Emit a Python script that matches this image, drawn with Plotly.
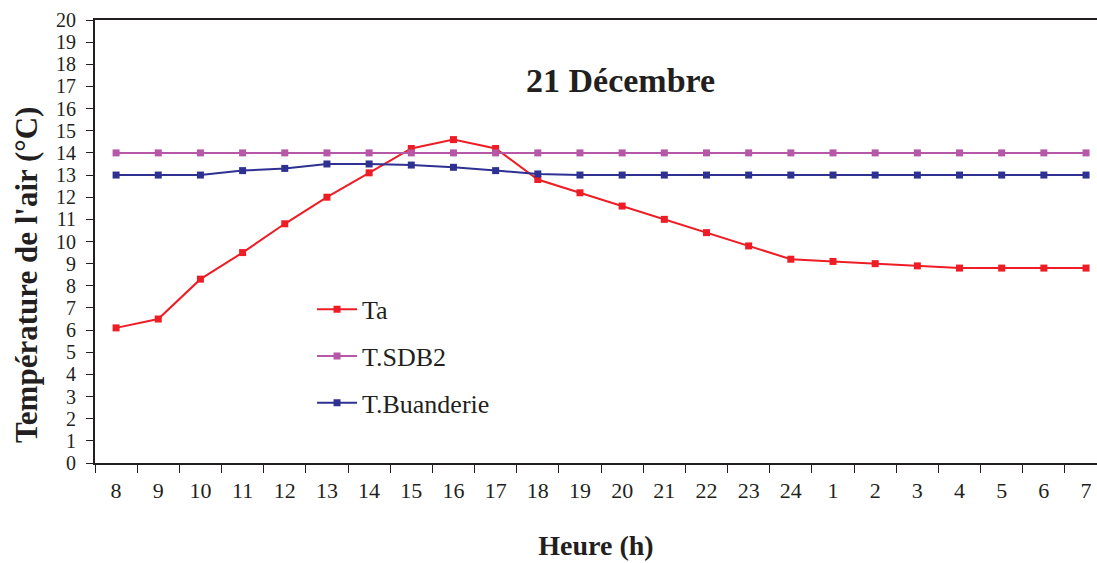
import plotly.graph_objects as go

hours = ["8", "9", "10", "11", "12", "13", "14", "15", "16", "17", "18", "19", "20",
         "21", "22", "23", "24", "1", "2", "3", "4", "5", "6", "7"]
ta = [6.1, 6.5, 8.3, 9.5, 10.8, 12.0, 13.1, 14.2, 14.6, 14.2, 12.8, 12.2, 11.6,
      11.0, 10.4, 9.8, 9.2, 9.1, 9.0, 8.9, 8.8, 8.8, 8.8, 8.8]
t_sdb2 = [14.0] * 24
t_buanderie = [13.0, 13.0, 13.0, 13.2, 13.3, 13.5, 13.5, 13.45, 13.35, 13.2, 13.05, 13.0,
               13.0, 13.0, 13.0, 13.0, 13.0, 13.0, 13.0, 13.0, 13.0, 13.0, 13.0, 13.0]
y_ticks = list(range(0, 21))

FONT = "Liberation Serif"
INK = "#231F20"

series = [
    ("Ta", ta, "#EE1C25"),
    ("T.SDB2", t_sdb2, "#B657A7"),
    ("T.Buanderie", t_buanderie, "#2E3192"),
]

fig = go.Figure()
for i, (name, vals, col) in enumerate(series):
    fig.add_trace(go.Scatter(
        x=hours, y=vals, name=name, mode="lines+markers",
        line=dict(color=col, width=2),
        marker=dict(symbol="square", size=7, color=col),
        legendgroup=f"g{i}",
    ))

fig.update_layout(
    width=1097, height=563,
    margin=dict(l=95, r=0, t=20, b=100, autoexpand=False),
    paper_bgcolor="white", plot_bgcolor="white",
    font=dict(family=FONT, color=INK, size=18),
    showlegend=True,
    legend=dict(
        x=0.2166, y=0.40, xanchor="left", yanchor="top",
        bgcolor="rgba(0,0,0,0)", borderwidth=0,
        font=dict(family=FONT, size=26, color=INK),
        tracegroupgap=10, itemwidth=40,
    ),
    annotations=[
        dict(text="<b>21 Décembre</b>", x=0.524, y=1 - (80 - 20) / 443,
             xref="paper", yref="paper", xanchor="center", yanchor="middle",
             showarrow=False, font=dict(family=FONT, size=34, color=INK)),
        dict(text="<b>Température de l'air (°C)</b>", textangle=-90,
             x=-(95 - 26) / 1002, y=1 - (275 - 20) / 443,
             xref="paper", yref="paper", xanchor="center", yanchor="middle",
             showarrow=False, font=dict(family=FONT, size=31, color=INK)),
    ],
)

fig.update_xaxes(
    type="category", range=[-0.5, 23.26],
    tickson="boundaries", ticks="outside", ticklen=8, tickwidth=1, tickcolor=INK,
    showline=True, linewidth=2, linecolor=INK, mirror=True,
    showgrid=False, zeroline=False, ticklabelstandoff=7,
    tickfont=dict(family=FONT, size=22, color=INK),
    title=dict(text="<b>Heure (h)</b>", font=dict(family=FONT, size=28, color=INK), standoff=33),
)
fig.update_yaxes(
    range=[0, 20], tickvals=y_ticks,
    ticks="outside", ticklen=7, tickwidth=1, tickcolor=INK,
    showline=True, linewidth=2, linecolor=INK,
    showgrid=False, zeroline=False, ticklabelstandoff=6,
    tickfont=dict(family=FONT, size=20, color=INK),
)

fig.write_html("out.html", config={"displayModeBar": False},
               post_script="document.body.style.margin='0px';")
